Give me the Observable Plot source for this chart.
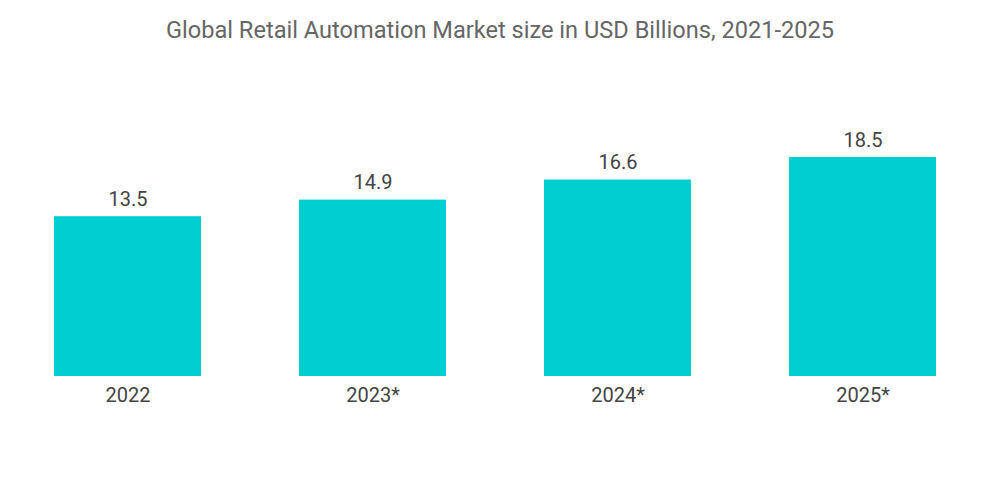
<!DOCTYPE html>
<html>
<head>
<meta charset="utf-8">
<script src="https://cdn.jsdelivr.net/npm/d3@7"></script>
<script src="https://cdn.jsdelivr.net/npm/@observablehq/plot@0.6"></script>
<style>
  html, body { margin: 0; padding: 0; background: #fff; }
  #title { height: 60px; line-height: 60px; text-align: center; font-family: Roboto, sans-serif; font-size: 23.6px; color: #666; white-space: nowrap; }
  #chart svg { display: block; }
</style>
</head>
<body>
<div id="title">Global Retail Automation Market size in USD Billions, 2021-2025</div>
<div id="chart"></div>
<script>
const years = ["2022", "2023*", "2024*", "2025*"];
const values = [13.5, 14.9, 16.6, 18.5];
const data = years.map((y, i) => ({year: y, value: values[i]}));

const chart = Plot.plot({
  width: 1000,
  height: 444,
  marginLeft: 53,
  marginRight: 64,
  marginTop: 97,
  marginBottom: 128,
  style: {fontFamily: "Roboto, sans-serif", fontSize: "20px", color: "#444", background: "#fff"},
  x: {domain: years, paddingInner: 0.4, paddingOuter: 0, label: null, tickSize: 0, tickPadding: 11},
  y: {domain: [0, 18.5], axis: null},
  marks: [
    Plot.barY(data, {x: "year", y: "value", fill: "#00CED1"}),
    Plot.text(data, {x: "year", y: "value", text: d => d.value.toFixed(1), dy: -11, lineAnchor: "bottom", fill: "#444", fontSize: 20})
  ]
});
document.getElementById("chart").appendChild(chart);
</script>
</body>
</html>
